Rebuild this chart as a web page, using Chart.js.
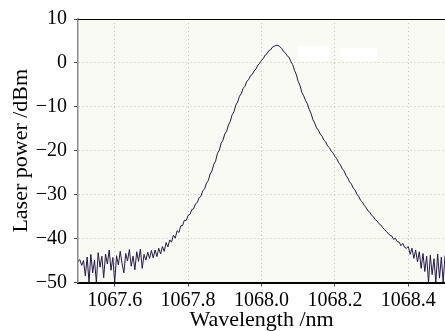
<!DOCTYPE html>
<html>
<head>
<meta charset="utf-8">
<script src="https://cdn.jsdelivr.net/npm/chart.js@4.4.1/dist/chart.umd.min.js"></script>
<style>
  html, body { margin: 0; padding: 0; background: #fff; overflow: hidden; }
  #wrap { width: 445px; height: 331px; }
</style>
</head>
<body>
<div id="wrap"><canvas id="spectrum" width="445" height="331"></canvas></div>
<script>
// Laser output spectrum (OSA trace)
const wavelengthNm = [
  1067.500,1067.505,1067.510,1067.515,1067.520,1067.525,1067.530,1067.535,1067.540,1067.545,
  1067.550,1067.555,1067.560,1067.565,1067.570,1067.575,1067.580,1067.585,1067.590,1067.595,
  1067.600,1067.605,1067.610,1067.615,1067.620,1067.625,1067.630,1067.635,1067.640,1067.645,
  1067.650,1067.655,1067.660,1067.665,1067.670,1067.675,1067.680,1067.685,1067.690,1067.695,
  1067.700,1067.705,1067.710,1067.715,1067.720,1067.725,1067.730,1067.735,1067.740,1067.745,
  1067.750,1067.755,1067.760,1067.765,1067.770,1067.775,1067.780,1067.785,1067.790,1067.795,
  1067.800,1067.805,1067.810,1067.815,1067.820,1067.825,1067.830,1067.835,1067.840,1067.845,
  1067.850,1067.855,1067.860,1067.865,1067.870,1067.875,1067.880,1067.885,1067.890,1067.895,
  1067.900,1067.905,1067.910,1067.915,1067.920,1067.925,1067.930,1067.935,1067.940,1067.945,
  1067.950,1067.955,1067.960,1067.965,1067.970,1067.975,1067.980,1067.985,1067.990,1067.995,
  1068.000,1068.005,1068.010,1068.015,1068.020,1068.025,1068.030,1068.035,1068.040,1068.045,
  1068.050,1068.055,1068.060,1068.065,1068.070,1068.075,1068.080,1068.085,1068.090,1068.095,
  1068.100,1068.105,1068.110,1068.115,1068.120,1068.125,1068.130,1068.135,1068.140,1068.145,
  1068.150,1068.155,1068.160,1068.165,1068.170,1068.175,1068.180,1068.185,1068.190,1068.195,
  1068.200,1068.205,1068.210,1068.215,1068.220,1068.225,1068.230,1068.235,1068.240,1068.245,
  1068.250,1068.255,1068.260,1068.265,1068.270,1068.275,1068.280,1068.285,1068.290,1068.295,
  1068.300,1068.305,1068.310,1068.315,1068.320,1068.325,1068.330,1068.335,1068.340,1068.345,
  1068.350,1068.355,1068.360,1068.365,1068.370,1068.375,1068.380,1068.385,1068.390,1068.395,
  1068.400,1068.405,1068.410,1068.415,1068.420,1068.425,1068.430,1068.435,1068.440,1068.445,
  1068.450,1068.455,1068.460,1068.465,1068.470,1068.475,1068.480,1068.485,1068.490,1068.495,
  1068.500
];

const powerDbm = [
  -45.2,-44.8,-46.1,-45.0,-48.5,-44.2,-50.0,-43.6,-47.8,-44.9,
  -50.0,-43.2,-46.5,-44.0,-48.9,-43.5,-45.8,-42.6,-47.2,-44.3,
  -50.0,-43.9,-46.0,-42.9,-45.7,-47.8,-43.4,-45.1,-42.5,-46.3,
  -44.0,-47.1,-43.0,-45.2,-42.4,-46.8,-43.6,-44.9,-43.1,-44.5,
  -42.7,-44.4,-42.6,-44.1,-42.2,-43.5,-41.8,-42.9,-40.9,-41.9,
  -40.3,-40.8,-39.2,-39.9,-38.2,-38.6,-37.1,-37.0,-35.8,-35.9,
  -34.7,-34.5,-33.4,-33.2,-32.1,-31.8,-30.7,-30.4,-29.1,-28.7,
  -27.4,-26.8,-25.3,-24.6,-23.1,-22.3,-20.6,-19.9,-18.3,-17.6,
  -16.2,-15.6,-14.1,-13.3,-11.8,-11.1,-9.6,-8.9,-7.6,-7.0,
  -5.8,-5.3,-4.2,-3.8,-2.9,-2.6,-1.8,-1.4,-0.5,-0.1,
  0.6,1.0,1.8,2.1,2.8,3.0,3.6,3.8,4.0,4.0,
  3.7,3.3,2.6,2.3,1.6,1.3,0.3,-0.4,-1.7,-2.7,
  -4.2,-5.2,-6.7,-7.5,-8.6,-9.3,-10.6,-11.5,-12.9,-13.7,
  -14.8,-15.3,-16.2,-16.7,-17.6,-18.0,-18.9,-19.3,-20.1,-20.5,
  -21.3,-21.8,-22.7,-23.2,-24.1,-24.6,-25.6,-26.2,-27.1,-27.6,
  -28.5,-29.0,-29.9,-30.4,-31.3,-31.7,-32.5,-32.9,-33.7,-34.0,
  -34.7,-35.0,-35.7,-36.0,-36.6,-36.9,-37.5,-37.9,-38.4,-38.8,
  -39.3,-39.4,-40.2,-39.9,-40.7,-40.8,-41.6,-41.1,-42.0,-42.2,
  -41.8,-43.6,-42.2,-44.5,-42.6,-45.3,-43.0,-46.8,-43.4,-47.5,
  -44.0,-50.0,-43.8,-48.2,-44.6,-50.0,-43.5,-49.0,-44.2,-50.0,
  -43.8
];

const xTickValues = [1067.6, 1067.8, 1068.0, 1068.2, 1068.4];
const yTickValues = [10, 0, -10, -20, -30, -40, -50];

// white patches over the plot near the peak, in data units [x0, x1, yTop, yBottom]
const whiteoutBoxes = [
  [1068.098, 1068.186, 3.9, 0.6],
  [1068.216, 1068.315, 3.3, 0.6]
];

const serif = '"Liberation Serif", "Times New Roman", serif';

const frame = {
  id: 'frame',
  beforeDraw(chart) {
    const { ctx, chartArea: a } = chart;
    ctx.save();
    ctx.fillStyle = '#fafaf4';
    ctx.fillRect(a.left, a.top, a.right - a.left, a.bottom - a.top);
    ctx.restore();
  },
  afterDatasetsDraw(chart) {
    const { ctx, chartArea: a, scales } = chart;
    ctx.save();
    ctx.fillStyle = '#ffffff';
    whiteoutBoxes.forEach(b => {
      const x0 = scales.x.getPixelForValue(b[0]);
      const x1 = scales.x.getPixelForValue(b[1]);
      const y0 = scales.y.getPixelForValue(b[2]);
      const y1 = scales.y.getPixelForValue(b[3]);
      ctx.fillRect(x0, y0, x1 - x0, y1 - y0);
    });
    // top frame line
    ctx.strokeStyle = '#000';
    ctx.lineWidth = 1.2;
    ctx.beginPath();
    ctx.moveTo(a.left, a.top + 0.5);
    ctx.lineTo(a.right, a.top + 0.5);
    ctx.stroke();
    ctx.restore();
  }
};

const ctx = document.getElementById('spectrum').getContext('2d');
new Chart(ctx, {
  type: 'line',
  data: {
    datasets: [{
      data: wavelengthNm.map((w, i) => ({ x: w, y: powerDbm[i] })),
      borderColor: '#231a48',
      borderWidth: 1,
      pointRadius: 0,
      tension: 0
    }]
  },
  options: {
    responsive: false,
    animation: false,
    events: [],
    layout: { padding: { top: 18, right: 0, left: 0, bottom: 0 } },
    plugins: { legend: { display: false }, tooltip: { enabled: false } },
    scales: {
      x: {
        type: 'linear',
        min: 1067.5,
        max: 1068.5,
        afterBuildTicks: scale => { scale.ticks = xTickValues.map(v => ({ value: v })); },
        afterFit: scale => { scale.height = 48.5; },
        border: { color: '#000', width: 2, dash: [1, 3] },
        grid: {
          color: '#c4c4bc',
          tickLength: 4,
          tickColor: '#444',
          tickBorderDash: []
        },
        ticks: {
          color: '#000',
          padding: 2,
          maxRotation: 0,
          font: { family: serif, size: 20 },
          callback: v => v.toFixed(1)
        },
        title: {
          display: true,
          text: 'Wavelength /nm',
          color: '#000',
          padding: { top: 0, bottom: 0 },
          font: { family: serif, size: 22, lineHeight: 1 }
        }
      },
      y: {
        min: -50,
        max: 10,
        afterBuildTicks: scale => { scale.ticks = yTickValues.map(v => ({ value: v })); },
        afterFit: scale => { scale.width = 78; },
        border: { color: '#8a8a8a', width: 1.5, dash: [1, 3] },
        grid: {
          color: '#c4c4bc',
          tickLength: 4,
          tickColor: '#444',
          tickBorderDash: []
        },
        ticks: {
          color: '#000',
          padding: 7,
          font: { family: serif, size: 20 },
          callback: v => (v < 0 ? '\u2212' + Math.abs(v) : String(v))
        },
        title: {
          display: true,
          text: 'Laser power /dBm',
          color: '#000',
          padding: { top: 8, bottom: 0 },
          font: { family: serif, size: 22, lineHeight: 1.2 }
        }
      }
    }
  },
  plugins: [frame]
});
</script>
</body>
</html>
